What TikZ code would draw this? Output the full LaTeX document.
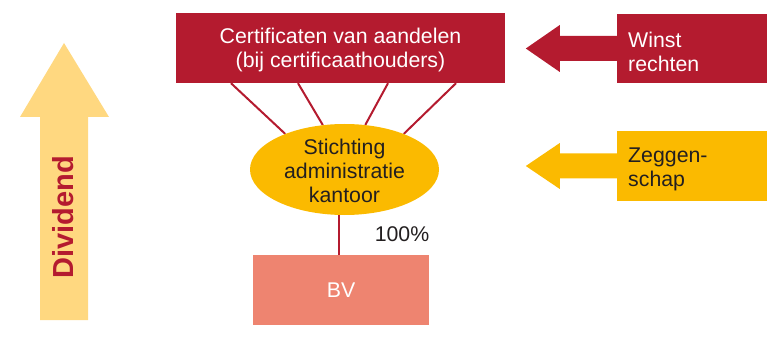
\documentclass[tikz,border=0pt]{standalone}
\usepackage{fontspec}
\setmainfont{Liberation Sans}
\usetikzlibrary{calc,backgrounds,shapes.geometric}
\definecolor{dred}{HTML}{B41B2F}
\definecolor{yel}{HTML}{FBBA00}
\definecolor{lyel}{HTML}{FFD880}
\definecolor{salmon}{HTML}{EE8470}
\definecolor{dark}{HTML}{231F20}
\begin{document}
\begin{tikzpicture}[x=1pt,y=-1pt,font=\fontsize{21.3}{24}\selectfont,
  redbox/.style={fill=dred,text=white,inner sep=0pt,align=center},
  sidebox/.style={inner ysep=0pt,inner xsep=11pt,text width=128pt,minimum height=69pt,align=left},
  link/.style={draw=dred,line width=2pt}]
\useasboundingbox (0,0) rectangle (767,347);
% Dividend arrow
\fill[lyel] (40,320) -- (40,117) -- (20,117) -- (64,43) -- (109,117) -- (88,117) -- (88,320) -- cycle;
\node[rotate=90,font=\bfseries\fontsize{29}{29}\selectfont,text=dred] (div) at (63,217) {Dividend};
% main nodes
\node[redbox,minimum width=329pt,minimum height=70pt] (cert) at (340.5,48) {};
\node[align=center,text=white,inner sep=0pt] (certtxt) at (340.5,50) {Certificaten van aandelen\\(bij certificaathouders)};
\node[ellipse,fill=yel,minimum width=189pt,minimum height=91pt,inner sep=0pt] (sak) at (344.5,169.5) {};
\node[align=center,text=dark,inner sep=0pt] (saktxt) at (344.5,171) {Stichting\\administratie\\kantoor};
\node[fill=salmon,text=white,minimum width=176pt,minimum height=70pt,inner sep=0pt] (bv) at (341,290) {BV};
\node[text=dark,inner sep=0pt] (pct) at (402,234) {100\%};
% side boxes
\node[fill=dred,minimum width=150pt,minimum height=69pt,inner sep=0pt] (winst) at (692,48.5) {};
\node[anchor=west,align=left,text=white,inner sep=0pt] (winsttxt) at (628,52) {Winst\\rechten};
\node[fill=yel,minimum width=150pt,minimum height=70pt,inner sep=0pt] (zeg) at (692,166) {};
\node[anchor=west,align=left,text=dark,inner sep=0pt] (zegtxt) at (628,169) {Zeggen-\\schap};
% side arrows
\fill[dred] ($(winst.west)+(1,-12.5)$) -- ($(winst.west)+(-57,-12.5)$) -- ($(winst.west)+(-57,-23.5)$) -- ($(winst.west)+(-91,0)$) -- ($(winst.west)+(-57,23.5)$) -- ($(winst.west)+(-57,12.5)$) -- ($(winst.west)+(1,12.5)$) -- cycle;
\fill[yel] ($(zeg.west)+(1,-12.5)$) -- ($(zeg.west)+(-57,-12.5)$) -- ($(zeg.west)+(-57,-23)$) -- ($(zeg.west)+(-91,0)$) -- ($(zeg.west)+(-57,23)$) -- ($(zeg.west)+(-57,12.5)$) -- ($(zeg.west)+(1,12.5)$) -- cycle;
% connectors
\begin{pgfonlayer}{background}
\draw[link] ($(cert.south)+(-109.5,0)$) -- (sak.149);
\draw[link] ($(cert.south)+(-42.5,0)$) -- (sak.116);
\draw[link] ($(cert.south)+(47.5,0)$) -- (sak.65);
\draw[link] ($(cert.south)+(115.5,0)$) -- (sak.31);
\coordinate (bvtop) at ($(bv.north)+(-2,0)$);
\draw[link] (bvtop) -- (bvtop |- sak.center);
\end{pgfonlayer}
\end{tikzpicture}
\end{document}
